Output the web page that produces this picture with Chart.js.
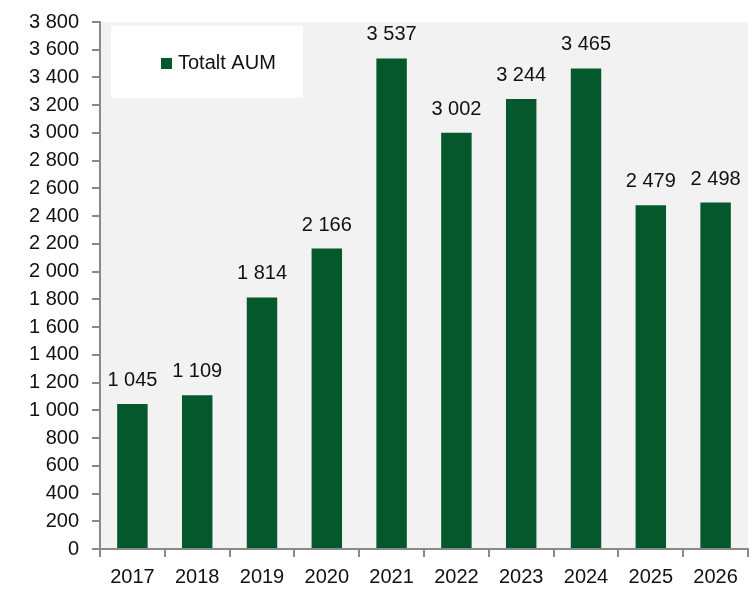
<!DOCTYPE html>
<html>
<head>
<meta charset="utf-8">
<script src="https://cdn.jsdelivr.net/npm/chart.js@4/dist/chart.umd.min.js"></script>
<style>
html,body{margin:0;padding:0;background:#ffffff;}
#wrap{width:754px;height:589px;}
</style>
</head>
<body>
<div id="wrap"><canvas id="c" width="754" height="589"></canvas></div>
<script>
const categories = ["2017","2018","2019","2020","2021","2022","2023","2024","2025","2026"];
const aumValues = [1045, 1109, 1814, 2166, 3537, 3002, 3244, 3465, 2479, 2498];
const seriesName = "Totalt AUM";

const FONT = "'Liberation Sans', Arial, sans-serif";
const GREEN = "#05582c";
const AXIS = "#898989";

function fmt(v){
  return String(v).replace(/\B(?=(\d{3})+(?!\d))/g, " ");
}

const bgPlugin = {
  id: "bg",
  beforeDraw(chart){
    const {ctx, chartArea:a} = chart;
    ctx.save();
    ctx.fillStyle = "#ffffff";
    ctx.fillRect(0,0,chart.width,chart.height);
    ctx.fillStyle = "#f2f2f2";
    ctx.fillRect(a.left, a.top, a.right - a.left, a.bottom - a.top);
    ctx.restore();
  }
};

const labelPlugin = {
  id: "valueLabels",
  afterDatasetsDraw(chart){
    const {ctx} = chart;
    const meta = chart.getDatasetMeta(0);
    ctx.save();
    ctx.font = "20px " + FONT;
    ctx.fillStyle = "#111111";
    ctx.textAlign = "center";
    ctx.textBaseline = "alphabetic";
    meta.data.forEach((bar, i) => {
      const v = chart.data.datasets[0].data[i];
      ctx.fillText(fmt(v), bar.x, bar.y - 18);
    });
    ctx.restore();
  }
};

const legendPlugin = {
  id: "boxLegend",
  afterDatasetsDraw(chart){
    const {ctx, chartArea:a} = chart;
    const x0 = a.left + 11, y0 = a.top + 4;
    ctx.save();
    ctx.fillStyle = "#ffffff";
    ctx.fillRect(x0, y0, 192, 72);
    ctx.fillStyle = chart.data.datasets[0].backgroundColor;
    ctx.fillRect(x0 + 50, y0 + 32, 11, 11);
    ctx.font = "20px " + FONT;
    ctx.fillStyle = "#111111";
    ctx.textAlign = "left";
    ctx.textBaseline = "alphabetic";
    ctx.fillText(chart.data.datasets[0].label, x0 + 67, y0 + 43);
    ctx.restore();
  }
};

new Chart(document.getElementById("c"), {
  type: "bar",
  data: {
    labels: categories,
    datasets: [{
      label: seriesName,
      data: aumValues,
      backgroundColor: GREEN,
      borderWidth: 0,
      barPercentage: 0.47,
      categoryPercentage: 1.0
    }]
  },
  options: {
    responsive: false,
    animation: false,
    devicePixelRatio: 1,
    layout: { padding: { top: 22, right: 6, left: 0, bottom: 0 } },
    plugins: {
      legend: { display: false },
      tooltip: { enabled: false }
    },
    scales: {
      x: {
        grid: { display: true, drawOnChartArea: false, drawTicks: true, tickLength: 8, color: AXIS, lineWidth: 2, offset: true },
        border: { display: true, color: AXIS, width: 2 },
        ticks: { color: "#111111", font: { family: FONT, size: 20 }, padding: 8, maxRotation: 0 },
        afterFit(scale){ scale.height = 40; }
      },
      y: {
        min: 0, max: 3800,
        grid: { display: true, drawOnChartArea: false, drawTicks: true, tickLength: 8, color: AXIS, lineWidth: 2 },
        border: { display: true, color: AXIS, width: 2 },
        ticks: { stepSize: 200, color: "#111111", font: { family: FONT, size: 20 }, padding: 13, callback: v => fmt(v) },
        afterFit(scale){ scale.width = 100; scale.paddingTop = 0; }
      }
    }
  },
  plugins: [bgPlugin, labelPlugin, legendPlugin]
});
</script>
</body>
</html>
